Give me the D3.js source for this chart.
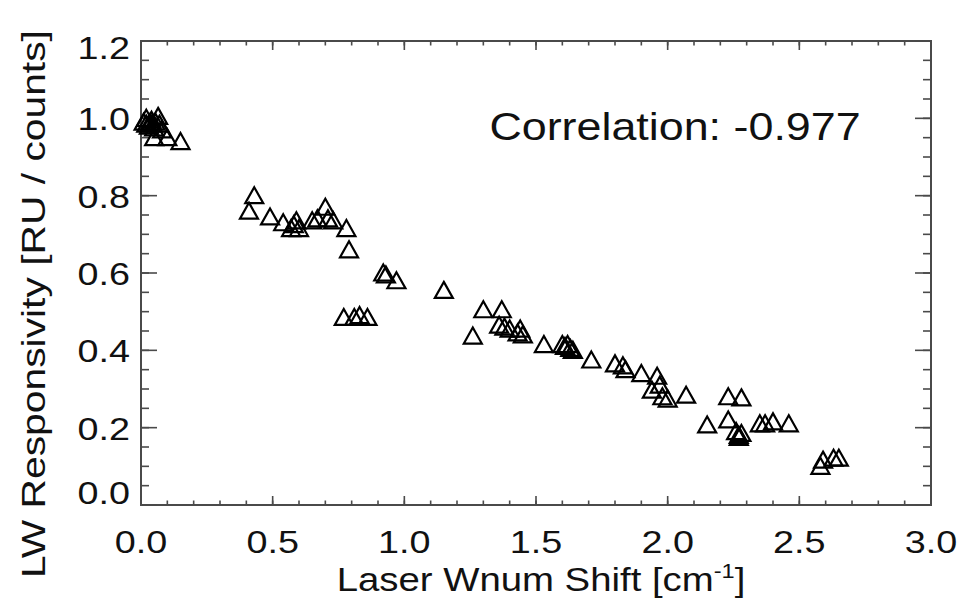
<!DOCTYPE html>
<html><head><meta charset="utf-8">
<script src="https://cdn.jsdelivr.net/npm/d3@7"></script>
<style>body{margin:0;background:#fff}svg{display:block}</style>
</head><body>
<script>
const xValues = [0.01,0.02,0.03,0.04,0.05,0.065,0.07,0.08,0.05,0.10,0.15,0.02,0.035,0.045,0.055,
  0.43,0.41,0.49,0.54,0.57,0.58,0.59,0.60,0.65,0.67,0.70,0.71,0.73,0.78,0.79,
  0.92,0.93,0.97,1.15,0.77,0.81,0.83,0.86,
  1.30,1.37,1.26,1.36,1.38,1.40,1.43,1.44,1.45,1.53,1.60,1.61,1.62,1.63,1.64,1.71,
  1.80,1.83,1.84,1.90,1.96,1.94,1.97,1.98,2.00,2.07,
  2.23,2.28,2.15,2.23,2.26,2.27,2.28,2.27,2.35,2.37,2.40,2.46,
  2.58,2.59,2.63,2.65];
const yValues = [0.99,1.00,0.98,0.995,0.975,1.005,0.985,0.97,0.95,0.95,0.94,0.985,0.99,0.985,0.99,
  0.80,0.76,0.745,0.73,0.715,0.725,0.735,0.715,0.735,0.74,0.77,0.74,0.735,0.715,0.66,
  0.60,0.595,0.58,0.555,0.485,0.485,0.49,0.485,
  0.505,0.505,0.437,0.465,0.46,0.455,0.445,0.455,0.44,0.415,0.415,0.41,0.415,0.405,0.40,0.375,
  0.365,0.36,0.35,0.34,0.333,0.297,0.31,0.28,0.274,0.284,
  0.28,0.277,0.207,0.22,0.19,0.18,0.185,0.175,0.21,0.21,0.215,0.21,
  0.10,0.116,0.121,0.121];
const xTickLabels = ["0.0","0.5","1.0","1.5","2.0","2.5","3.0"];
const yTickLabels = ["0.0","0.2","0.4","0.6","0.8","1.0","1.2"];
const annotation = "Correlation: -0.977";

const W = 959, H = 610;
const svg = d3.select("body").append("svg").attr("width", W).attr("height", H);
const x = d3.scaleLinear().domain([0, 3]).range([141, 931]);
const y = d3.scaleLinear().domain([0, 1.2]).range([505, 41]);
const axisColor = "#4a4a4a";
const font = "'Liberation Sans', Arial, sans-serif";
const g = svg.append("g");

// frame
g.append("rect").attr("x", 141).attr("y", 41).attr("width", 790).attr("height", 464)
  .attr("fill", "none").attr("stroke", axisColor).attr("stroke-width", 2);

// ticks
const xMajor = d3.range(0, 3.0001, 0.5), xMinor = d3.range(0, 3.0001, 0.1);
const yMajor = d3.range(0, 1.2001, 0.2), yMinor = d3.range(0, 1.2001, 0.05);
function tickLines(sel, vals, len, isX) {
  vals.forEach(v => {
    if (isX) {
      const px = x(v);
      sel.append("line").attr("x1", px).attr("x2", px).attr("y1", 505).attr("y2", 505 - len);
      sel.append("line").attr("x1", px).attr("x2", px).attr("y1", 41).attr("y2", 41 + len);
    } else {
      const py = y(v);
      sel.append("line").attr("y1", py).attr("y2", py).attr("x1", 141).attr("x2", 141 + len);
      sel.append("line").attr("y1", py).attr("y2", py).attr("x1", 931).attr("x2", 931 - len);
    }
  });
}
const tg = g.append("g").attr("stroke", axisColor).attr("stroke-width", 1.6);
tickLines(tg, xMinor, 4.5, true);
tickLines(tg, xMajor, 9, true);
tickLines(tg, yMinor, 8, false);
tickLines(tg, yMajor, 16, false);

// tick labels
const sx = 1.18;
xTickLabels.forEach((t, i) => {
  svg.append("text").attr("transform", `translate(${x(xMajor[i])},553) scale(${sx},1)`)
    .attr("text-anchor", "middle").attr("font-family", font).attr("font-size", 32)
    .attr("fill", "#111").text(t);
});
yTickLabels.forEach((t, i) => {
  let py = y(yMajor[i]) + 12;
  if (i === 0) py -= 13;
  if (i === yTickLabels.length - 1) py += 6;
  svg.append("text").attr("transform", `translate(130,${py}) scale(${sx},1)`)
    .attr("text-anchor", "end").attr("font-family", font).attr("font-size", 32)
    .attr("fill", "#111").text(t);
});

// axis titles
const xt = svg.append("text").attr("transform", `translate(541,591) scale(${sx},1)`)
  .attr("text-anchor", "middle").attr("font-family", font).attr("font-size", 32.5).attr("fill", "#111");
xt.append("tspan").text("Laser Wnum Shift [cm");
xt.append("tspan").attr("font-size", 20).attr("dy", -13).text("-1");
xt.append("tspan").attr("dy", 13).text("]");

svg.append("text").attr("transform", `translate(45,304) rotate(-90) scale(1.2,1)`)
  .attr("text-anchor", "middle").attr("font-family", font).attr("font-size", 34)
  .attr("fill", "#111").text("LW Responsivity [RU / counts]");

svg.append("text").attr("transform", `translate(675,140) scale(${sx},1)`)
  .attr("text-anchor", "middle").attr("font-family", font).attr("font-size", 38)
  .attr("fill", "#111").text(annotation);

// points
const tri = "M0,-8.5 L9,7.5 L-9,7.5 Z";
svg.append("g").selectAll("path").data(xValues.map((v, i) => [v, yValues[i]]))
  .join("path").attr("d", tri)
  .attr("transform", d => `translate(${x(d[0])},${y(d[1])})`)
  .attr("fill", "none").attr("stroke", "#000").attr("stroke-width", 2.2)
  .attr("stroke-linejoin", "miter");
</script>
</body></html>
